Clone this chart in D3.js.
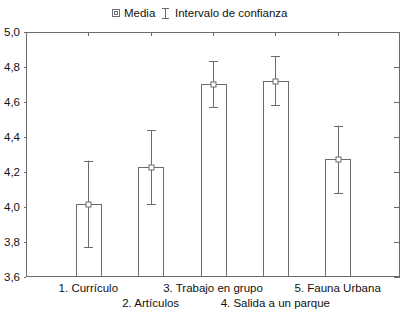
<!DOCTYPE html>
<html><head><meta charset="utf-8">
<script src="https://cdn.jsdelivr.net/npm/d3@7"></script>
<style>body{margin:0;background:#fff}svg{display:block}text{font-family:"Liberation Sans",Arial,sans-serif;fill:#111}</style>
</head><body><svg id="c" width="405" height="314"></svg>
<script>
const categories = ["1. Currículo","2. Artículos","3. Trabajo en grupo","4. Salida a un parque","5. Fauna Urbana"];
const means = [4.02, 4.23, 4.70, 4.72, 4.275];
const ciLow = [3.77, 4.015, 4.57, 4.58, 4.08];
const ciHigh = [4.265, 4.44, 4.835, 4.86, 4.465];
const yTicks = [3.6,3.8,4.0,4.2,4.4,4.6,4.8,5.0];

const svg = d3.select("#c");
const L=26,R=400,T=32,B=277;
const x = d3.scaleLinear().domain([0,6]).range([L,R]);
const y = d3.scaleLinear().domain([3.6,5.0]).range([B,T]);
const col="#6b6b6b";
const fmt = d => d.toFixed(1).replace(".",",");

// frame
svg.append("rect").attr("x",L+0.5).attr("y",T+0.5).attr("width",R-L-1).attr("height",B-T-1)
  .attr("fill","none").attr("stroke",col).attr("stroke-width",1);

// y ticks left (outward small) and right (inward)
const g = svg.append("g");
yTicks.forEach(v=>{
  const yy=Math.round(y(v))+0.5;
  g.append("line").attr("x1",L-2).attr("x2",L).attr("y1",yy).attr("y2",yy).attr("stroke",col);
  g.append("line").attr("x1",R-6).attr("x2",R).attr("y1",yy).attr("y2",yy).attr("stroke",col);
  g.append("text").attr("x",4).attr("y",y(v)+4).attr("font-size",11.5).text(fmt(v));
});
// x ticks top & bottom inward
categories.forEach((c,i)=>{
  const xx=Math.round(x(i+1))+0.5;
  g.append("line").attr("x1",xx).attr("x2",xx).attr("y1",T).attr("y2",T+4).attr("stroke",col);
  g.append("line").attr("x1",xx).attr("x2",xx).attr("y1",B-4).attr("y2",B).attr("stroke",col);
  g.append("text").attr("x",x(i+1)).attr("y",i%2===0?292:307).attr("text-anchor","middle")
    .attr("font-size",11.5).text(c);
});

// bars
const bw=25;
const bars = svg.append("g");
categories.forEach((c,i)=>{
  const cx=x(i+1);
  bars.append("rect").attr("x",Math.round(cx-bw/2)+0.5).attr("y",Math.round(y(means[i]))+0.5)
    .attr("width",bw).attr("height",Math.round(y(3.6))-Math.round(y(means[i]))-1)
    .attr("fill","#fff").attr("stroke",col);
});
// error bars
categories.forEach((c,i)=>{
  const cx=Math.round(x(i+1))+0.5;
  bars.append("line").attr("x1",cx).attr("x2",cx).attr("y1",y(ciLow[i])).attr("y2",y(ciHigh[i])).attr("stroke",col);
  [ciLow[i],ciHigh[i]].forEach(v=>{
    const yy=Math.round(y(v))+0.5;
    bars.append("line").attr("x1",cx-4.5).attr("x2",cx+4.5).attr("y1",yy).attr("y2",yy).attr("stroke",col);
  });
  bars.append("rect").attr("x",cx-2.5).attr("y",Math.round(y(means[i]))+0.5-2.5).attr("width",5).attr("height",5)
    .attr("fill","#fff").attr("stroke",col);
});

// legend
const lg = svg.append("g");
lg.append("rect").attr("x",112.5).attr("y",9.5).attr("width",7).attr("height",7).attr("fill","#fff").attr("stroke",col);
lg.append("rect").attr("x",114.5).attr("y",11.5).attr("width",3).attr("height",3).attr("fill","#fff").attr("stroke",col);
lg.append("text").attr("x",124).attr("y",17).attr("font-size",11.5).text("Media");
lg.append("line").attr("x1",165.5).attr("x2",165.5).attr("y1",8).attr("y2",19).attr("stroke",col);
lg.append("line").attr("x1",162).attr("x2",169).attr("y1",8.5).attr("y2",8.5).attr("stroke",col);
lg.append("line").attr("x1",162).attr("x2",169).attr("y1",18.5).attr("y2",18.5).attr("stroke",col);
lg.append("text").attr("x",175).attr("y",17).attr("font-size",11.5).text("Intervalo de confianza");
</script></body></html>
